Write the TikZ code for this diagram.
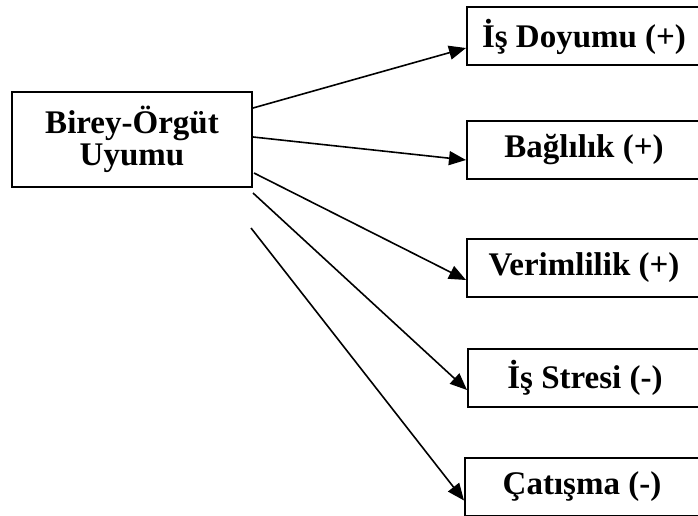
\documentclass[tikz,border=0pt]{standalone}
\usepackage{fontspec}
\setmainfont{Liberation Serif}
\usetikzlibrary{arrows.meta}
\begin{document}
\begin{tikzpicture}[x=1pt, y=-1pt, >={Triangle[length=17pt,width=14pt]},
  kutu/.style={draw, line width=2pt, inner sep=0pt, font=\fontsize{33}{32}\selectfont\bfseries},
  sonuc/.style={kutu, anchor=west, minimum width=234pt, minimum height=58pt},
  ok/.style={->, line width=1.6pt}]
  \useasboundingbox (0,0) rectangle (698,516);
  % sol kutu
  \node[kutu, minimum width=240pt, minimum height=95pt, align=center] (uyum) at (132,139.5) {Birey-Örgüt\\Uyumu};
  % sag kutular
  \node[sonuc] (doyum) at (466,36.5) {İş Doyumu (+)};
  \node[sonuc] (bag) at (466,150) {Bağlılık (+)};
  \node[sonuc] (verim) at (466,268) {Verimlilik (+)};
  \node[sonuc] (stres) at (467,378) {İş Stresi (-)};
  \node[sonuc] (catis) at (464,486.5) {Çatışma (-)};
  % oklar
  \coordinate (s4) at (253,193);
  \coordinate (s5) at (251,228);
  \draw[ok] ([yshift=31.5pt]uyum.east) -- ([yshift=-11.5pt]doyum.west);
  \draw[ok] ([yshift=2.5pt]uyum.east) -- ([yshift=-10pt]bag.west);
  \draw[ok] ([xshift=1pt, yshift=-33.5pt]uyum.east) -- ([yshift=-12pt]verim.west);
  \draw[ok] (s4) -- ([yshift=-12pt]stres.west);
  \draw[ok] (s5) -- ([yshift=-14pt]catis.west);
\end{tikzpicture}
\end{document}
